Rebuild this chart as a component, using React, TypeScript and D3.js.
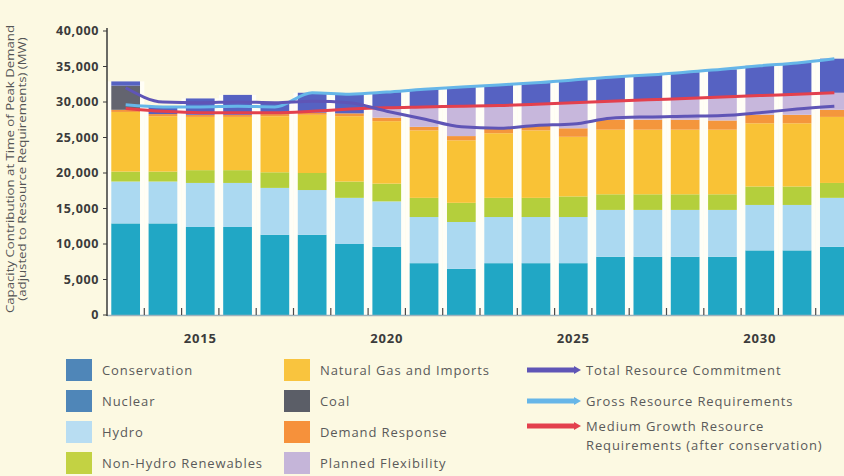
import React from 'react';
import * as d3 from 'd3';

// Capacity contribution at peak (MW)
const years = [2013, 2014, 2015, 2016, 2017, 2018, 2019, 2020, 2021, 2022, 2023, 2024, 2025, 2026, 2027, 2028, 2029, 2030, 2031, 2032];
const nuclear = [12900, 12900, 12400, 12400, 11300, 11300, 10000, 9600, 7300, 6500, 7300, 7300, 7300, 8200, 8200, 8200, 8200, 9100, 9100, 9600];
const hydro = [5900, 5900, 6200, 6200, 6600, 6300, 6500, 6400, 6500, 6600, 6500, 6500, 6500, 6600, 6600, 6600, 6600, 6400, 6400, 6900];
const renewables = [1400, 1400, 1800, 1800, 2200, 2400, 2300, 2500, 2700, 2700, 2700, 2700, 2900, 2200, 2200, 2200, 2200, 2600, 2600, 2100];
const naturalGas = [8400, 7800, 7500, 7500, 7900, 8200, 9200, 8800, 9500, 8800, 9100, 9500, 8400, 9100, 9100, 9100, 9100, 8900, 8900, 9300];
const demandResponse = [300, 300, 300, 300, 300, 300, 400, 500, 500, 600, 600, 700, 1200, 1400, 1400, 1400, 1300, 1200, 1200, 1000];
const coal = [3400, 0, 0, 0, 0, 0, 0, 0, 0, 0, 0, 0, 0, 0, 0, 0, 0, 0, 0, 0];
const flexibility = [0, 0, 0, 0, 0, 0, 0, 1400, 2800, 4200, 3300, 3000, 3600, 2600, 2800, 3000, 3300, 2700, 2900, 2400];
const conservation = [600, 1100, 2300, 2800, 1600, 2800, 2700, 2200, 2500, 2700, 2900, 3000, 3200, 3400, 3500, 3700, 3900, 4200, 4400, 4800];

const totalCommitment = [32000, 30000, 29900, 30000, 29900, 30100, 29900, 28700, 27600, 26500, 26300, 26700, 26900, 27700, 27900, 28000, 28100, 28500, 29000, 29400];
const grossRequirements = [29600, 29300, 29300, 29400, 29300, 31300, 31100, 31400, 31800, 32100, 32400, 32700, 33100, 33500, 33800, 34200, 34600, 35100, 35500, 36100];
const mediumGrowth = [29100, 28700, 28500, 28500, 28500, 28700, 29000, 29200, 29300, 29400, 29500, 29700, 29900, 30100, 30300, 30500, 30700, 30900, 31100, 31300];

const yTicks = [0, 5000, 10000, 15000, 20000, 25000, 30000, 35000, 40000];
const xTickYears = [2015, 2020, 2025, 2030];

const seriesKeys = ['nuclear', 'hydro', 'renewables', 'naturalGas', 'demandResponse', 'coal', 'flexibility', 'conservation'];
const seriesValues: Record<string, number[]> = { nuclear, hydro, renewables, naturalGas, demandResponse, coal, flexibility, conservation };
const fillColors: Record<string, string> = {
    nuclear: '#21a7c5',
    hydro: '#abd9f1',
    renewables: '#b4cf3c',
    naturalGas: '#f9c236',
    demandResponse: '#f4963c',
    coal: '#63646f',
    flexibility: '#c7b7dc',
    conservation: '#5662c2',
};

const legendSwatches = [
    { label: 'Conservation', color: '#4f86b8', col: 0, row: 0 },
    { label: 'Nuclear', color: '#4f86b8', col: 0, row: 1 },
    { label: 'Hydro', color: '#b8ddf2', col: 0, row: 2 },
    { label: 'Non-Hydro Renewables', color: '#c3d243', col: 0, row: 3 },
    { label: 'Natural Gas and Imports', color: '#f9c43e', col: 1, row: 0 },
    { label: 'Coal', color: '#5b5e67', col: 1, row: 1 },
    { label: 'Demand Response', color: '#f6913b', col: 1, row: 2 },
    { label: 'Planned Flexibility', color: '#c5b5d9', col: 1, row: 3 },
];
const legendLines = [
    { label: ['Total Resource Commitment'], color: '#5f55b6', row: 0 },
    { label: ['Gross Resource Requirements'], color: '#66b6e8', row: 1 },
    { label: ['Medium Growth Resource', 'Requirements (after conservation)'], color: '#e3404d', row: 2 },
];

const W = 844;
const H = 476;
const FONT = "'Open Sans', 'Noto Sans', sans-serif";

export default function App() {
    const x = d3.scaleBand<number>()
        .domain(years)
        .range([107, 107 + years.length * 37.3])
        .paddingInner(0.23)
        .paddingOuter(0.115);
    const y = d3.scaleLinear().domain([0, 40000]).range([315, 31]);
    const bw = x.bandwidth();
    const gap = x.step() - bw;

    const rows = years.map((yr, i) => {
        const r: Record<string, number> = { year: yr };
        seriesKeys.forEach(k => { r[k] = seriesValues[k][i]; });
        return r;
    });
    const stacked = d3.stack<Record<string, number>>().keys(seriesKeys)(rows);
    const tops = rows.map((r, i) => stacked[stacked.length - 1][i][1]);

    const cx = (i: number) => (x(years[i]) ?? 0) + bw / 2;
    const line = d3.line<number>()
        .x((d, i) => cx(i))
        .y(d => y(d))
        .curve(d3.curveMonotoneX);

    const rowY = [370, 401, 432, 463];

    return (
        <div style={{ position: 'fixed', left: 0, top: 0 }}>
            <svg width={W} height={H} style={{ display: 'block' }}>
                <rect width={W} height={H} fill="#fcf9e2" />

                {/* white backing so the gaps between bars read as pale stripes */}
                {years.map((yr, i) => (
                    <rect key={'bg' + yr} x={(x(yr) ?? 0) - gap / 2} width={x.step()}
                        y={y(tops[i])} height={y(0) - y(tops[i])} fill="#fffef6" />
                ))}

                {stacked.map(layer => (
                    <g key={layer.key} fill={fillColors[layer.key]}>
                        {layer.map((d, i) => (
                            d[1] - d[0] > 0 ? (
                                <rect key={i} x={x(years[i])} width={bw}
                                    y={y(d[1])} height={y(d[0]) - y(d[1])} />
                            ) : null
                        ))}
                    </g>
                ))}

                {/* requirement / commitment lines */}
                <path d={line(grossRequirements) ?? ''} fill="none" stroke="#66b6e8" strokeWidth={3} />
                <path d={line(mediumGrowth) ?? ''} fill="none" stroke="#e3404d" strokeWidth={3} />
                <path d={line(totalCommitment) ?? ''} fill="none" stroke="#5f55b6" strokeWidth={3} />

                {/* x axis */}
                <line x1={107} x2={W} y1={y(0) + 0.5} y2={y(0) + 0.5} stroke="#9fb2bd" strokeWidth={1.5} />
                {years.map(yr => (
                    <line key={'xt' + yr} x1={(x(yr) ?? 0) + bw + gap / 2} x2={(x(yr) ?? 0) + bw + gap / 2}
                        y1={y(0)} y2={y(0) - 7} stroke="#4a4a4a" strokeWidth={1.2} />
                ))}
                {xTickYears.map(yr => (
                    <text key={'xl' + yr} x={(x(yr) ?? 0) + bw / 2} y={343} textAnchor="middle"
                        fontFamily={FONT} fontWeight={700} fontSize={13} letterSpacing={0.8}
                        fill="#3b3b3b">{yr}</text>
                ))}

                {/* y axis */}
                <line x1={107} x2={107} y1={y(40000) - 3} y2={y(0) + 1} stroke="#3a3a3a" strokeWidth={1.5} />
                {yTicks.map(t => (
                    <g key={'yt' + t}>
                        <line x1={103} x2={107} y1={y(t)} y2={y(t)} stroke="#3a3a3a" strokeWidth={1} />
                        <text x={99} y={y(t)} dy="0.35em" textAnchor="end" fontFamily={FONT}
                            fontWeight={700} fontSize={12.5} letterSpacing={0.6}
                            fill="#3b3b3b">{d3.format(',')(t)}</text>
                    </g>
                ))}
                {/* the scan is stretched along the text, so the title is scaled the same way */}
                <g transform="translate(14, 169) rotate(-90) scale(1.26, 1)" fontFamily={FONT} fontSize={10.5}
                    fill="#555" textAnchor="middle">
                    <text x={0} y={0}>Capacity Contribution at Time of Peak Demand</text>
                    <text x={0} y={12.5}>(adjusted to Resource Requirements) (MW)</text>
                </g>

                {/* legend */}
                {legendSwatches.map(s => {
                    const sx = s.col === 0 ? 66 : 284;
                    return (
                        <g key={s.label}>
                            <rect x={sx} y={rowY[s.row] - 11} width={26} height={22} fill={s.color} />
                            <text x={sx + 36} y={rowY[s.row]} dy="0.35em" fontFamily={FONT} fontSize={13}
                                letterSpacing={0.9} fill="#5a5a5a">{s.label}</text>
                        </g>
                    );
                })}
                {legendLines.map(l => {
                    const ly = rowY[l.row] - (l.label.length > 1 ? 6 : 0);
                    return (
                        <g key={l.label[0]}>
                            <line x1={527} x2={574} y1={ly} y2={ly} stroke={l.color} strokeWidth={5} />
                            <path d={`M574,${ly - 4}L581,${ly}L574,${ly + 4}Z`} fill={l.color} />
                            {l.label.map((t, j) => (
                                <text key={t} x={586} y={ly + j * 19} dy="0.35em" fontFamily={FONT}
                                    fontSize={13} letterSpacing={0.9} fill="#5a5a5a">{t}</text>
                            ))}
                        </g>
                    );
                })}
            </svg>
        </div>
    );
}
